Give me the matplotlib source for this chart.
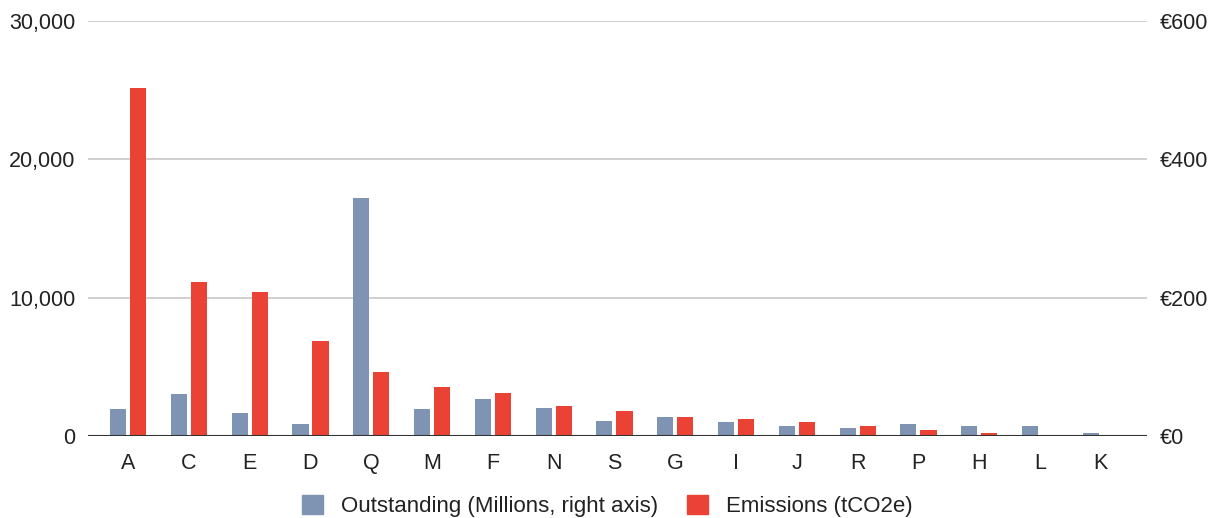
import matplotlib
matplotlib.use("Agg")
import matplotlib.pyplot as plt
from matplotlib.patches import Patch
import numpy as np

plt.rcParams['font.family'] = ['Liberation Sans', 'DejaVu Sans']

categories = ["A", "C", "E", "D", "Q", "M", "F", "N", "S", "G", "I", "J", "R", "P", "H", "L", "K"]
outstanding = [39, 60, 33, 17, 344, 39, 54, 41, 22, 27, 20, 14.5, 11.6, 17.3, 14.5, 14.5, 4]
emissions = [25150, 11150, 10420, 6870, 4630, 3540, 3110, 2190, 1790, 1370, 1230, 990, 720, 430, 190, 0, 0]
left_ticks = [0, 10000, 20000, 30000]
right_ticks = [0, 200, 400, 600]

blue = "#7F93B3"
red = "#EA4335"

fig = plt.figure(figsize=(12.17, 5.18), dpi=100)
ax = fig.add_axes([88/1217, 1-436/518, (1147-88)/1217, (436-21)/518])
ax2 = ax.twinx()

x = np.arange(len(categories))
w = 0.265
off = 0.165
ax2.bar(x - off, outstanding, width=w, color=blue, zorder=3)
ax.bar(x + off, emissions, width=w, color=red, zorder=3)

ax.set_ylim(0, 30000)
ax2.set_ylim(0, 600)
ax.set_xlim(-0.66, 16.76)
ax.set_yticks(left_ticks)
ax.set_yticklabels([f"{v:,}" for v in left_ticks])
ax2.set_yticks(right_ticks)
ax2.set_yticklabels([f"€{v}" for v in right_ticks])
ax.set_xticks(x)
ax.set_xticklabels(categories)

for a in (ax, ax2):
    for s in a.spines.values():
        s.set_visible(False)
    a.tick_params(length=0, labelsize=15.5, colors="#222222")
ax.tick_params(axis='y', pad=9)
ax2.tick_params(axis='y', pad=9)
ax.tick_params(axis='x', pad=12)
ax.grid(axis='y', color="#C8C8C8", linewidth=1.2, zorder=0)
ax.set_axisbelow(True)
ax2.set_zorder(ax.get_zorder() + 1)
ax2.patch.set_visible(False)
ax2.axhline(0, color="#333333", linewidth=1.5, zorder=5)

handles = [Patch(color=blue, label="Outstanding (Millions, right axis)"),
           Patch(color=red, label="Emissions (tCO2e)")]
fig.legend(handles=handles, loc="center", bbox_to_anchor=(607.5/1217, 1-506/518), ncol=2,
           frameon=False, fontsize=16, handlelength=0.95, handleheight=0.95,
           handletextpad=0.8, columnspacing=1.3, labelcolor="#222222")

fig.savefig("out.png", dpi=100)
